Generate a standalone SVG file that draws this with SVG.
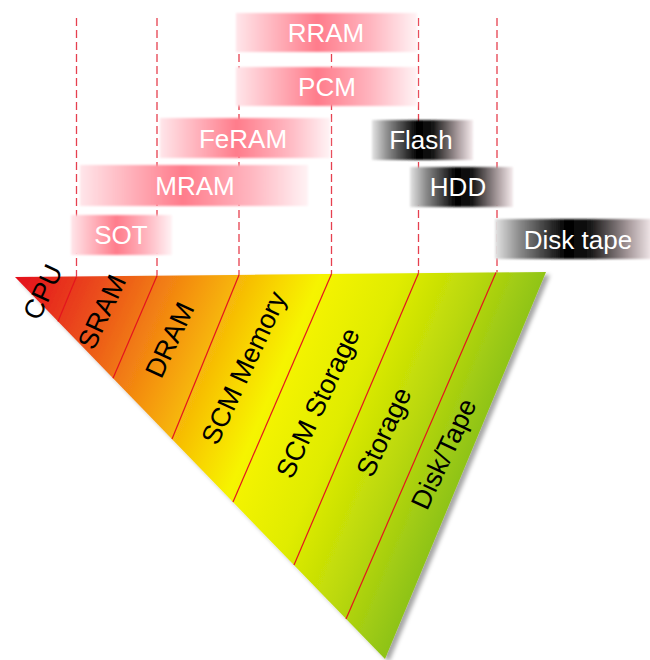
<svg xmlns="http://www.w3.org/2000/svg" width="650" height="660" viewBox="0 0 650 660">
<defs>
<linearGradient id="pink" x1="0" y1="0" x2="1" y2="0">
<stop offset="0" stop-color="#ffe6ea"/>
<stop offset="0.15" stop-color="#ffc2ca"/>
<stop offset="0.45" stop-color="#ff7c8b"/>
<stop offset="0.75" stop-color="#ffb6c0"/>
<stop offset="1" stop-color="#fff3f5"/>
</linearGradient>
<linearGradient id="dark" x1="0" y1="0" x2="1" y2="0">
<stop offset="0" stop-color="#e4e4e4"/>
<stop offset="0.15" stop-color="#8e8e8e"/>
<stop offset="0.45" stop-color="#000000"/>
<stop offset="0.6" stop-color="#141414"/>
<stop offset="0.85" stop-color="#a99c9e"/>
<stop offset="1" stop-color="#f6ecee"/>
</linearGradient>
<linearGradient id="tri" gradientUnits="userSpaceOnUse" x1="15" y1="277" x2="468" y2="470">
<stop offset="0" stop-color="#e30e1a"/>
<stop offset="0.15" stop-color="#ea461c"/>
<stop offset="0.35" stop-color="#f5990e"/>
<stop offset="0.5" stop-color="#f8d800"/>
<stop offset="0.57" stop-color="#f6f400"/>
<stop offset="0.72" stop-color="#e0ec00"/>
<stop offset="0.86" stop-color="#bad80a"/>
<stop offset="1" stop-color="#8cc21a"/>
</linearGradient>
<filter id="shadow" x="-10%" y="-10%" width="130%" height="130%">
<feDropShadow dx="4" dy="3" stdDeviation="2" flood-color="#000" flood-opacity="0.35"/>
</filter>
<filter id="soft" x="-5%" y="-20%" width="110%" height="140%">
<feGaussianBlur stdDeviation="0.8"/>
</filter>
</defs>
<style>
.dash{stroke:#e6404f;stroke-width:1.3;stroke-dasharray:8 4;fill:none}
.div{stroke:#e4141e;stroke-width:1.2;fill:none}
.bt{font-family:"Liberation Sans",Arial,sans-serif;font-size:26px;fill:#fff;text-anchor:middle}
.tl{font-family:"Liberation Sans",Arial,sans-serif;font-size:27px;fill:#000;text-anchor:middle}
.pk{fill:url(#pink)}
.dk{fill:url(#dark)}
</style>
<g id="connectors">
<line class="dash" x1="76.5" y1="18" x2="76.5" y2="276.4"/>
<line class="dash" x1="157" y1="18" x2="157" y2="275.7"/>
<line class="dash" x1="239" y1="18" x2="239" y2="274.9"/>
<line class="dash" x1="331.5" y1="18" x2="331.5" y2="274"/>
<line class="dash" x1="418.5" y1="18" x2="418.5" y2="273.2"/>
<line class="dash" x1="497" y1="18" x2="497" y2="272.5"/>
</g>
<g id="RRAM"><rect class="pk" x="236" y="13" width="181" height="39" filter="url(#soft)"/><text class="bt" x="326" y="42">RRAM</text></g>
<g id="PCM"><rect class="pk" x="236" y="67" width="181" height="39" filter="url(#soft)"/><text class="bt" x="327" y="96">PCM</text></g>
<g id="FeRAM"><rect class="pk" x="160" y="118" width="170" height="40" filter="url(#soft)"/><text class="bt" x="243" y="148">FeRAM</text></g>
<g id="MRAM"><rect class="pk" x="80" y="165" width="228" height="41" filter="url(#soft)"/><text class="bt" x="195" y="195">MRAM</text></g>
<g id="SOT"><rect class="pk" x="71" y="215" width="101" height="40" filter="url(#soft)"/><text class="bt" x="121" y="244">SOT</text></g>
<g id="Flash"><rect class="dk" x="372" y="120" width="101" height="40" filter="url(#soft)"/><text class="bt" x="421" y="149">Flash</text></g>
<g id="HDD"><rect class="dk" x="410" y="167" width="103" height="40" filter="url(#soft)"/><text class="bt" x="458" y="196">HDD</text></g>
<g id="Disk-tape"><rect class="dk" x="495" y="219" width="158" height="40" filter="url(#soft)"/><text class="bt" x="578" y="249">Disk tape</text></g>
<g id="pyramid">
<polygon points="15,277 546,272 385,659" fill="url(#tri)" filter="url(#shadow)"/>
<line class="div" x1="76.5" y1="276.4" x2="58" y2="321.4"/>
<line class="div" x1="157" y1="275.7" x2="113" y2="378.2"/>
<line class="div" x1="239" y1="274.9" x2="172" y2="439"/>
<line class="div" x1="331.5" y1="274" x2="233" y2="502"/>
<line class="div" x1="418.5" y1="273.2" x2="294" y2="565"/>
<line class="div" x1="496" y1="272.5" x2="346" y2="619"/>
</g>
<g id="CPU"><text class="tl" transform="translate(43,292) rotate(-65)" dy="9">CPU</text></g>
<g id="SRAM"><text class="tl" transform="translate(102,312) rotate(-65)" dy="9">SRAM</text></g>
<g id="DRAM"><text class="tl" transform="translate(170,340) rotate(-65)" dy="9">DRAM</text></g>
<g id="SCM-Memory"><text class="tl" transform="translate(244,368) rotate(-65)" dy="9">SCM Memory</text></g>
<g id="SCM-Storage"><text class="tl" transform="translate(318,403) rotate(-65)" dy="9">SCM Storage</text></g>
<g id="Storage"><text class="tl" transform="translate(384,432) rotate(-65)" dy="9">Storage</text></g>
<g id="Disk-Tape"><text class="tl" transform="translate(444,454) rotate(-65)" dy="9">Disk/Tape</text></g>
</svg>
